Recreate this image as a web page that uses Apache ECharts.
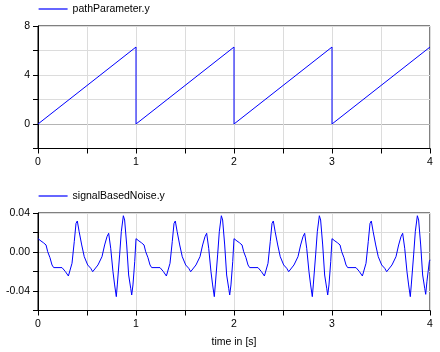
<!DOCTYPE html>
<html>
<head>
<meta charset="utf-8">
<script src="https://cdn.jsdelivr.net/npm/echarts@6/dist/echarts.min.js"></script>
<style>
html,body{margin:0;padding:0;background:#fff;}
#c{width:440px;height:352px;}
</style>
</head>
<body>
<div id="c"></div>
<script>
// ---- data ----
var pathTime = [0, 1, 1, 2, 2, 3, 3, 4];
var pathValue = [0, 6.283, 0, 6.283, 0, 6.283, 0, 6.283];

var noiseTime = [
  0.000,0.030,0.054,0.082,0.099,0.122,0.143,0.160,0.245,0.279,0.310,0.327,0.347,0.370,0.388,0.401,0.420,0.446,0.472,0.507,0.538,0.558,0.571,0.612,0.653,0.680,0.704,0.721,0.742,0.765,0.782,0.799,0.809,0.833,0.850,0.871,0.884,0.905,0.925,0.946,0.956,0.969,0.987,
  1.000,1.030,1.054,1.082,1.099,1.122,1.143,1.160,1.245,1.279,1.310,1.327,1.347,1.370,1.388,1.401,1.420,1.446,1.472,1.507,1.538,1.558,1.571,1.612,1.653,1.680,1.704,1.721,1.742,1.765,1.782,1.799,1.809,1.833,1.850,1.871,1.884,1.905,1.925,1.946,1.956,1.969,1.987,
  2.000,2.030,2.054,2.082,2.099,2.122,2.143,2.160,2.245,2.279,2.310,2.327,2.347,2.370,2.388,2.401,2.420,2.446,2.472,2.507,2.538,2.558,2.571,2.612,2.653,2.680,2.704,2.721,2.742,2.765,2.782,2.799,2.809,2.833,2.850,2.871,2.884,2.905,2.925,2.946,2.956,2.969,2.987,
  3.000,3.030,3.054,3.082,3.099,3.122,3.143,3.160,3.245,3.279,3.310,3.327,3.347,3.370,3.388,3.401,3.420,3.446,3.472,3.507,3.538,3.558,3.571,3.612,3.653,3.680,3.704,3.721,3.742,3.765,3.782,3.799,3.809,3.833,3.850,3.871,3.884,3.905,3.925,3.946,3.956,3.969,3.993,4.000
];
var noiseValue = [
  0.0137,0.0113,0.0096,0.0072,0.0003,-0.0058,-0.0133,-0.0160,-0.0160,-0.0200,-0.0246,-0.0236,-0.0116,0.0106,0.0294,0.0318,0.0208,0.0072,-0.0048,-0.0133,-0.0167,-0.0202,-0.0195,-0.0133,-0.0048,0.0072,0.0157,0.0192,0.0038,-0.0202,-0.0338,-0.0458,-0.0338,-0.0030,0.0208,0.0372,0.0328,0.0072,-0.0236,-0.0372,-0.0441,-0.0338,-0.0099,
  0.0137,0.0113,0.0096,0.0072,0.0003,-0.0058,-0.0133,-0.0160,-0.0160,-0.0200,-0.0246,-0.0236,-0.0116,0.0106,0.0294,0.0318,0.0208,0.0072,-0.0048,-0.0133,-0.0167,-0.0202,-0.0195,-0.0133,-0.0048,0.0072,0.0157,0.0192,0.0038,-0.0202,-0.0338,-0.0458,-0.0338,-0.0030,0.0208,0.0372,0.0328,0.0072,-0.0236,-0.0372,-0.0441,-0.0338,-0.0099,
  0.0137,0.0113,0.0096,0.0072,0.0003,-0.0058,-0.0133,-0.0160,-0.0160,-0.0200,-0.0246,-0.0236,-0.0116,0.0106,0.0294,0.0318,0.0208,0.0072,-0.0048,-0.0133,-0.0167,-0.0202,-0.0195,-0.0133,-0.0048,0.0072,0.0157,0.0192,0.0038,-0.0202,-0.0338,-0.0458,-0.0338,-0.0030,0.0208,0.0372,0.0328,0.0072,-0.0236,-0.0372,-0.0441,-0.0338,-0.0099,
  0.0137,0.0113,0.0096,0.0072,0.0003,-0.0058,-0.0133,-0.0160,-0.0160,-0.0200,-0.0246,-0.0236,-0.0116,0.0106,0.0294,0.0318,0.0208,0.0072,-0.0048,-0.0133,-0.0167,-0.0202,-0.0195,-0.0133,-0.0048,0.0072,0.0157,0.0192,0.0038,-0.0202,-0.0338,-0.0458,-0.0338,-0.0030,0.0208,0.0372,0.0328,0.0072,-0.0236,-0.0372,-0.0434,-0.0300,-0.0099,-0.0080
];

var xTicks = [0, 1, 2, 3, 4];
var topYLabels = [0, 4, 8];
var bottomYLabels = [-0.04, 0.00, 0.04];

var seriesNames = ['pathParameter.y', 'signalBasedNoise.y'];
var xAxisTitle = 'time in [s]';

// ---- chart ----
function zip(a, b) { return a.map(function (v, i) { return [v, b[i]]; }); }
var FONT = 'Liberation Sans, Arial, sans-serif';
var FS = 10.5;
var gridLight = '#dcdcdc';
var zeroLine = '#b4b4b4';

function xAxisDef(idx, withName) {
  var ax = {
    gridIndex: idx, type: 'value', min: 0, max: 4, interval: 0.5,
    axisLine: { onZero: false, lineStyle: { color: '#000', width: 1 } },
    axisTick: { length: 5, lineStyle: { color: '#000' } },
    axisLabel: {
      color: '#000', fontFamily: FONT, fontSize: FS, margin: 8,
      formatter: function (v) { return xTicks.indexOf(v) >= 0 ? String(v) : ''; }
    },
    splitLine: { show: true, lineStyle: { color: gridLight, width: 1 } }
  };
  if (withName) {
    ax.name = xAxisTitle;
    ax.nameLocation = 'middle';
    ax.nameGap = 26;
    ax.nameTextStyle = { color: '#000', fontFamily: FONT, fontSize: FS };
  }
  return ax;
}

function legendDef(name, top) {
  return {
    data: [name], left: 38, top: top, padding: 0, itemWidth: 29, itemHeight: 13,
    itemStyle: { opacity: 0 },
    lineStyle: { color: '#0000ff', width: 1.2, opacity: 1 },
    textStyle: { color: '#000', fontFamily: FONT, fontSize: FS }
  };
}

var chart = echarts.init(document.getElementById('c'), null, { renderer: 'canvas' });
chart.setOption({
  animation: false,
  backgroundColor: '#fff',
  legend: [legendDef(seriesNames[0], 3.5), legendDef(seriesNames[1], 190.5)],
  grid: [
    { left: 38, top: 26, width: 392, height: 122.5, show: true, borderColor: '#000', borderWidth: 1, backgroundColor: 'transparent' },
    { left: 38, top: 213, width: 392, height: 97.5, show: true, borderColor: '#000', borderWidth: 1, backgroundColor: 'transparent' }
  ],
  xAxis: [xAxisDef(0, false), xAxisDef(1, true)],
  yAxis: [
    {
      gridIndex: 0, type: 'value', min: -2, max: 8, interval: 2,
      axisLine: { show: true, onZero: false, lineStyle: { color: '#000' } },
      axisTick: { show: true, length: 5, lineStyle: { color: '#000' } },
      axisLabel: {
        color: '#000', fontFamily: FONT, fontSize: FS, margin: 8,
        formatter: function (v) { return topYLabels.indexOf(v) >= 0 ? String(v) : ''; }
      },
      splitLine: { show: true, lineStyle: { color: [gridLight, zeroLine, gridLight, gridLight, gridLight, gridLight] } }
    },
    {
      gridIndex: 1, type: 'value', min: -0.06, max: 0.04, interval: 0.02,
      axisLine: { show: true, onZero: false, lineStyle: { color: '#000' } },
      axisTick: { show: true, length: 5, lineStyle: { color: '#000' } },
      axisLabel: {
        color: '#000', fontFamily: FONT, fontSize: FS, margin: 8,
        formatter: function (v) {
          for (var i = 0; i < bottomYLabels.length; i++) {
            if (Math.abs(v - bottomYLabels[i]) < 1e-9) return bottomYLabels[i].toFixed(2);
          }
          return '';
        }
      },
      splitLine: { show: true, lineStyle: { color: [gridLight, gridLight, gridLight, zeroLine, gridLight, gridLight] } }
    }
  ],
  series: [
    {
      name: seriesNames[0], type: 'line', xAxisIndex: 0, yAxisIndex: 0,
      data: zip(pathTime, pathValue), showSymbol: false, symbol: 'none',
      lineStyle: { color: '#0000ff', width: 1 }, itemStyle: { color: '#0000ff' }
    },
    {
      name: seriesNames[1], type: 'line', xAxisIndex: 1, yAxisIndex: 1,
      data: zip(noiseTime, noiseValue), showSymbol: false, symbol: 'none',
      lineStyle: { color: '#0000ff', width: 1 }, itemStyle: { color: '#0000ff' }
    }
  ]
});
</script>
</body>
</html>
